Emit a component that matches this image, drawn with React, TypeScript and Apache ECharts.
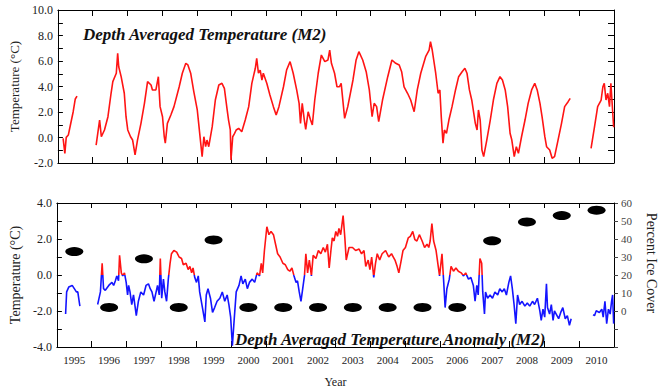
import React, { useEffect, useRef } from "react";
import * as echarts from "echarts";

const SERIF = '"Liberation Serif", "Times New Roman", serif';

const yearLabels = ["1995","1996","1997","1998","1999","2000","2001","2002","2003","2004","2005","2006","2007","2008","2009","2010"];

const tempSeg1: number[][] = [
  [1995.15,-0.07],[1995.20,-1.25],[1995.24,0.01],[1995.30,0.19],[1995.36,0.98],[1995.44,2.02],[1995.50,3.02],[1995.55,3.25]
];
const tempSeg2: number[][] = [
  [1996.10,-0.59],[1996.20,1.37],[1996.25,0.06],[1996.34,0.59],[1996.44,1.63],[1996.53,3.47],[1996.58,4.38],[1996.68,5.04],[1996.72,6.6],[1996.75,5.55],[1996.82,4.77],[1996.91,3.47],[1996.96,1.63],
  [1997.01,0.59],[1997.09,0.06],[1997.15,-0.2],[1997.22,-1.37],[1997.29,-0.2],[1997.39,1.11],[1997.49,2.68],[1997.58,4.38],[1997.68,4.12],[1997.72,3.73],[1997.82,3.73],[1997.89,4.77],[1997.94,2.42],
  [1998.01,1.63],[1998.06,0.06],[1998.09,-0.45],[1998.15,1.11],[1998.25,1.76],[1998.34,2.42],[1998.49,3.98],[1998.58,5.04],[1998.68,5.82],[1998.74,5.69],[1998.82,5.04],[1998.91,3.6],
  [1999.01,2.16],[1999.06,0.85],[1999.10,-0.2],[1999.15,-1.5],[1999.20,0.06],[1999.25,-0.72],[1999.29,-0.2],[1999.34,-0.72],[1999.44,0.85],[1999.53,2.94],[1999.63,4.12],[1999.72,4.25],[1999.79,3.86],[1999.87,2.16],[1999.91,1.37],[1999.96,0.59],[1999.98,-1.76],
  [2000.03,0.06],[2000.08,0.3],[2000.13,0.59],[2000.20,0.72],[2000.29,0.45],[2000.39,1.37],[2000.49,2.42],[2000.58,4.25],[2000.68,5.43],[2000.72,6.21],[2000.77,5.04],[2000.82,5.29],[2000.87,4.51],[2000.91,5.04],
  [2001.01,4.25],[2001.10,3.33],[2001.20,2.42],[2001.28,1.76],[2001.36,2.42],[2001.49,3.98],[2001.58,5.29],[2001.68,5.95],[2001.77,5.04],[2001.87,3.73],[2001.94,2.68],[2001.98,1.11],
  [2002.03,2.68],[2002.09,1.37],[2002.13,0.64],[2002.20,2.02],[2002.27,1.37],[2002.32,0.98],[2002.39,2.94],[2002.49,5.04],[2002.58,6.47],[2002.68,5.95],[2002.77,6.08],[2002.82,6.86],[2002.87,5.82],[2002.96,5.04],
  [2003.03,3.98],[2003.10,3.98],[2003.15,4.25],[2003.25,1.5],[2003.34,2.42],[2003.49,4.51],[2003.58,6.08],[2003.66,6.73],[2003.77,6.08],[2003.87,5.16],[2003.96,3.73],
  [2004.04,1.63],[2004.10,2.68],[2004.17,2.42],[2004.23,1.24],[2004.34,2.94],[2004.49,4.77],[2004.61,6.08],[2004.72,5.82],[2004.82,5.69],[2004.89,5.16],[2004.96,3.98],
  [2005.06,3.47],[2005.15,2.94],[2005.25,2.02],[2005.34,3.73],[2005.44,5.04],[2005.58,6.34],[2005.68,6.86],[2005.72,7.51],[2005.77,6.86],[2005.87,5.04],[2005.94,3.47],[2005.99,3.73],
  [2006.03,1.63],[2006.08,-0.45],[2006.12,0.59],[2006.18,0.33],[2006.25,1.37],[2006.34,2.42],[2006.44,3.73],[2006.53,4.77],[2006.63,5.16],[2006.71,5.43],[2006.77,5.04],[2006.84,3.73],[2006.91,2.9],
  [2007.01,1.11],[2007.06,0.59],[2007.10,2.16],[2007.15,1.37],[2007.20,-0.98],[2007.25,-1.5],[2007.34,-0.2],[2007.44,1.37],[2007.53,2.94],[2007.63,4.25],[2007.72,4.77],[2007.79,4.51],[2007.87,3.73],[2007.94,2.42],
  [2008.01,0.33],[2008.06,-0.2],[2008.13,-1.5],[2008.19,-0.72],[2008.25,-1.24],[2008.34,0.06],[2008.44,1.37],[2008.53,2.68],[2008.63,3.73],[2008.72,4.25],[2008.79,3.73],[2008.87,2.68],[2008.93,1.63],
  [2009.01,0.06],[2009.06,-0.72],[2009.15,-0.98],[2009.22,-1.63],[2009.29,-1.5],[2009.39,-0.2],[2009.49,1.11],[2009.58,2.42],[2009.68,2.81],[2009.74,3.07]
];
const tempSeg3: number[][] = [
  [2010.34,-0.85],[2010.44,0.85],[2010.53,2.42],[2010.63,2.94],[2010.68,3.98],[2010.72,4.25],[2010.77,2.94],[2010.82,3.47],[2010.87,2.42],[2010.91,4.25],[2010.99,0.8]
];

const anomSeg1: number[][] = [
  [1995.25,-2.17],[1995.28,-0.94],[1995.34,-0.67],[1995.44,-0.58],[1995.50,-0.76],[1995.56,-0.94],[1995.60,-0.94],[1995.66,-1.73]
];
const anomSeg2: number[][] = [
  [1996.17,-1.64],[1996.20,-1.38],[1996.25,-0.94],[1996.30,0.65],[1996.34,-0.76],[1996.39,-0.85],[1996.49,-0.58],[1996.58,-0.41],[1996.63,-0.58],[1996.68,-0.32],[1996.72,-0.05],[1996.77,-0.32],[1996.80,1.09],[1996.85,0.12],[1996.89,-0.05],[1996.94,0.12],[1996.99,-0.41],
  [1997.03,-1.11],[1997.06,-0.58],[1997.10,-0.94],[1997.15,-1.64],[1997.20,-1.11],[1997.28,-2.26],[1997.34,-1.46],[1997.41,-0.94],[1997.49,-1.11],[1997.56,-0.58],[1997.63,-0.49],[1997.68,-0.76],[1997.73,-0.94],[1997.79,-1.46],[1997.85,-0.94],[1997.89,-0.58],[1997.94,-1.11],[1997.97,0.92],
  [1998.01,-1.29],[1998.06,-0.23],[1998.10,-0.94],[1998.15,-1.46],[1998.20,-0.23],[1998.25,0.65],[1998.29,1.18],[1998.36,1.36],[1998.44,1.27],[1998.51,1.0],[1998.58,0.92],[1998.63,0.57],[1998.71,0.65],[1998.77,0.3],[1998.82,0.48],[1998.87,0.12],[1998.91,0.39],[1998.96,-0.14],
  [1999.01,-0.41],[1999.06,-0.05],[1999.10,-0.94],[1999.18,-1.81],[1999.25,-2.61],[1999.29,-1.11],[1999.34,-0.76],[1999.41,-1.29],[1999.47,-2.08],[1999.53,-1.81],[1999.60,-1.46],[1999.68,-1.29],[1999.75,-0.94],[1999.82,-1.46],[1999.89,-1.11],[1999.94,-1.64],[1999.99,-2.34],
  [2000.04,-3.93],[2000.09,-2.52],[2000.15,-0.94],[2000.23,-0.58],[2000.29,-0.05],[2000.34,-0.49],[2000.41,-0.23],[2000.47,-0.76],[2000.53,-0.41],[2000.61,-0.23],[2000.68,-0.41],[2000.75,0.12],[2000.82,-0.05],[2000.87,0.65],[2000.91,0.12],[2000.96,1.36],
  [2001.03,2.68],[2001.09,2.24],[2001.15,2.42],[2001.22,2.24],[2001.28,1.71],[2001.34,1.18],[2001.41,1.0],[2001.49,0.65],[2001.56,0.57],[2001.63,0.3],[2001.69,0.21],[2001.75,0.39],[2001.81,-0.05],[2001.87,-0.41],[2001.91,-0.32],[2001.96,-0.94],
  [2002.01,-1.46],[2002.06,-0.76],[2002.11,-0.05],[2002.15,1.18],[2002.20,0.12],[2002.25,0.83],[2002.31,-0.05],[2002.36,1.09],[2002.44,0.92],[2002.51,1.36],[2002.58,1.18],[2002.65,1.53],[2002.71,1.27],[2002.77,1.71],[2002.82,0.39],[2002.87,1.36],[2002.91,2.06],[2002.96,1.89],
  [2003.01,2.42],[2003.06,2.15],[2003.10,2.59],[2003.15,2.24],[2003.22,3.3],[2003.27,2.06],[2003.31,0.83],[2003.39,1.53],[2003.49,1.53],[2003.58,1.36],[2003.68,1.44],[2003.75,1.18],[2003.82,1.36],[2003.87,0.48],[2003.94,0.83],[2003.99,0.3],
  [2004.04,1.0],[2004.10,-0.14],[2004.15,0.65],[2004.20,1.18],[2004.27,0.83],[2004.34,1.18],[2004.44,1.36],[2004.53,1.0],[2004.61,1.18],[2004.71,0.83],[2004.77,0.48],[2004.82,0.12],[2004.89,0.83],[2004.94,1.36],
  [2005.01,1.53],[2005.09,2.06],[2005.15,2.15],[2005.22,2.42],[2005.28,1.97],[2005.34,1.89],[2005.41,2.24],[2005.49,1.89],[2005.56,1.53],[2005.63,1.71],[2005.68,1.53],[2005.72,1.89],[2005.77,2.86],[2005.82,1.89],[2005.89,1.36],[2005.94,0.65],[2005.99,-0.05],
  [2006.06,1.18],[2006.11,-0.41],[2006.15,-1.81],[2006.20,-0.76],[2006.27,-0.23],[2006.32,0.48],[2006.39,0.21],[2006.46,0.39],[2006.53,0.21],[2006.61,0.12],[2006.68,-0.05],[2006.74,0.12],[2006.82,-0.23],[2006.89,-0.14],[2006.96,-0.58],
  [2007.01,-1.46],[2007.06,-0.58],[2007.10,-1.11],[2007.15,0.92],[2007.20,0.65],[2007.23,-0.94],[2007.28,-2.17],[2007.31,-0.94],[2007.37,-1.29],[2007.44,-1.11],[2007.51,-1.29],[2007.58,-0.94],[2007.66,-1.11],[2007.72,-0.76],[2007.79,-0.94],[2007.85,-0.76],[2007.91,-1.11],[2007.98,-0.41],
  [2008.03,-0.05],[2008.08,-0.76],[2008.13,-1.64],[2008.18,-2.7],[2008.23,-1.11],[2008.29,-1.64],[2008.36,-1.46],[2008.44,-1.73],[2008.51,-1.55],[2008.58,-1.73],[2008.66,-1.46],[2008.72,-1.64],[2008.80,-1.29],[2008.87,-1.99],[2008.91,-2.52],[2008.96,-1.9],
  [2009.01,-2.34],[2009.06,-0.49],[2009.09,-1.81],[2009.15,-2.17],[2009.20,-1.64],[2009.25,-2.52],[2009.29,-1.99],[2009.34,-2.17],[2009.41,-2.43],[2009.47,-2.08],[2009.53,-1.81],[2009.60,-2.43],[2009.66,-2.26],[2009.72,-2.79],[2009.77,-2.43]
];
const anomSeg3: number[][] = [
  [2010.40,-2.2],[2010.44,-2.26],[2010.49,-1.99],[2010.58,-2.08],[2010.65,-1.9],[2010.69,-2.34],[2010.74,-1.46],[2010.79,-2.7],[2010.84,-1.9],[2010.89,-2.17],[2010.93,-1.46],[2010.96,-1.11],[2010.99,-2.7]
];

const iceYears = [1995,1996,1997,1998,1999,2000,2001,2002,2003,2004,2005,2006,2007,2008,2009,2010];
const iceCover = [33,2,29,2,39.5,2,2,2,2,2,2,2,39,49.5,53,56];

function joinSegments(segs: number[][][]): any[] {
  const out: any[] = [];
  segs.forEach((s, i) => {
    if (i > 0) out.push([(segs[i - 1][segs[i - 1].length - 1][0] + s[0][0]) / 2, "-"]);
    s.forEach((p) => out.push(p));
  });
  return out;
}

export default function App() {
  const ref = useRef<HTMLDivElement>(null);
  useEffect(() => {
    if (!ref.current) return;
    const chart = echarts.init(ref.current, undefined, { renderer: "svg" });
    const black = "#000";
    const gridL = 53, gridW = 561;
    const valueX = (grid: number, pos: string, extra: any = {}) => ({
      gridIndex: grid, type: "value", min: 1995, max: 2011, interval: 1, position: pos,
      axisLine: { show: true, onZero: false, lineStyle: { color: black, width: 1 } },
      axisTick: { show: true, inside: true, length: 6, lineStyle: { color: black } },
      axisLabel: { show: false }, splitLine: { show: false }, ...extra,
    });
    const evenLabel = (v: number) => (Math.round(v) % 2 === 0 ? v.toFixed(1) : "");
    chart.setOption({
      animation: false,
      backgroundColor: "#fff",
      grid: [
        { left: gridL, top: 10, width: gridW, height: 153 },
        { left: gridL, top: 203, width: gridW, height: 151 },
      ],
      xAxis: [
        valueX(0, "bottom"),
        valueX(0, "top"),
        valueX(1, "bottom", {
          name: "Year", nameLocation: "middle", nameGap: 29,
          nameTextStyle: { fontFamily: SERIF, fontSize: 12, color: "#222" },
        }),
        valueX(1, "top", { axisTick: { show: true, inside: true, length: 5, lineStyle: { color: black } } }),
        {
          gridIndex: 1, type: "category", data: yearLabels, position: "bottom", boundaryGap: true,
          axisLine: { show: false, onZero: false }, axisTick: { show: false },
          axisLabel: { interval: 0, margin: 7, fontFamily: SERIF, fontSize: 11, color: "#222" },
          splitLine: { show: false },
        },
      ],
      yAxis: [
        {
          gridIndex: 0, type: "value", min: -2, max: 10, interval: 1, position: "left",
          axisLine: { show: true, onZero: false, lineStyle: { color: black } },
          axisTick: { show: true, inside: true, length: 5, lineStyle: { color: black } },
          axisLabel: { formatter: evenLabel, margin: 5, fontFamily: SERIF, fontSize: 12, color: "#222" },
          splitLine: { show: false },
          name: "Temperature (°C)", nameLocation: "middle", nameGap: 25,
          nameTextStyle: { fontFamily: SERIF, fontSize: 13, color: "#222" },
        },
        {
          gridIndex: 0, type: "value", min: -2, max: 10, interval: 1, position: "right",
          axisLine: { show: true, onZero: false, lineStyle: { color: black } },
          axisTick: { show: true, inside: true, length: 6, lineStyle: { color: black } },
          axisLabel: { show: false }, splitLine: { show: false },
        },
        {
          gridIndex: 1, type: "value", min: -4, max: 4, interval: 1, position: "left",
          axisLine: { show: true, onZero: false, lineStyle: { color: black } },
          axisTick: { show: true, inside: true, length: 5, lineStyle: { color: black } },
          axisLabel: { formatter: evenLabel, margin: 5, fontFamily: SERIF, fontSize: 12, color: "#222" },
          splitLine: { show: false },
          name: "Temperature (°C)", nameLocation: "middle", nameGap: 25,
          nameTextStyle: { fontFamily: SERIF, fontSize: 14, color: "#222" },
        },
        {
          gridIndex: 1, type: "value", min: -20, max: 60, interval: 10, position: "right",
          axisLine: { show: true, onZero: false, lineStyle: { color: black } },
          axisTick: { show: true, inside: false, length: 4, lineStyle: { color: "#444" } },
          axisLabel: { formatter: (v: number) => (v >= 0 ? String(v) : ""), margin: 7, fontFamily: SERIF, fontSize: 11, color: "#444" },
          splitLine: { show: false },
        },
      ],
      visualMap: {
        show: false, type: "piecewise", seriesIndex: 1, dimension: 1,
        pieces: [
          { min: -10, max: 0, color: "#1414ff" },
          { min: 0, max: 10, color: "#ff1414" },
        ],
        outOfRange: { color: "#1414ff" },
      },
      series: [
        {
          type: "line", xAxisIndex: 0, yAxisIndex: 0, data: joinSegments([tempSeg1, tempSeg2, tempSeg3]),
          showSymbol: false, connectNulls: false, lineStyle: { color: "#ff1414", width: 1.6 }, itemStyle: { color: "#ff1414" },
        },
        {
          type: "line", xAxisIndex: 2, yAxisIndex: 2, data: joinSegments([anomSeg1, anomSeg2, anomSeg3]),
          showSymbol: false, connectNulls: false, lineStyle: { width: 1.6 },
        },
        {
          type: "scatter", xAxisIndex: 2, yAxisIndex: 3, symbol: "circle", symbolSize: [18, 9],
          data: iceYears.map((y, i) => [y + 0.5, iceCover[i]]),
          itemStyle: { color: "#000", opacity: 1 }, z: 5,
        },
      ],
      graphic: [
        {
          type: "text", left: 83, top: 26,
          style: { text: "Depth Averaged Temperature (M2)", font: `italic bold 17px ${SERIF}`, fill: "#111" },
        },
        {
          type: "text", left: 235, top: 331,
          style: { text: "Depth Averaged Temperature Anomaly (M2)", font: `italic bold 17px ${SERIF}`, fill: "#111" },
        },
        {
          type: "text", x: 651, y: 263, rotation: -Math.PI / 2,
          style: { text: "Percent Ice Cover", font: `14px ${SERIF}`, fill: "#222", align: "center", verticalAlign: "middle" },
        },
      ],
    });
    return () => chart.dispose();
  }, []);
  return <div ref={ref} style={{ position: "fixed", left: 0, top: 0, width: 664, height: 389 }} />;
}
